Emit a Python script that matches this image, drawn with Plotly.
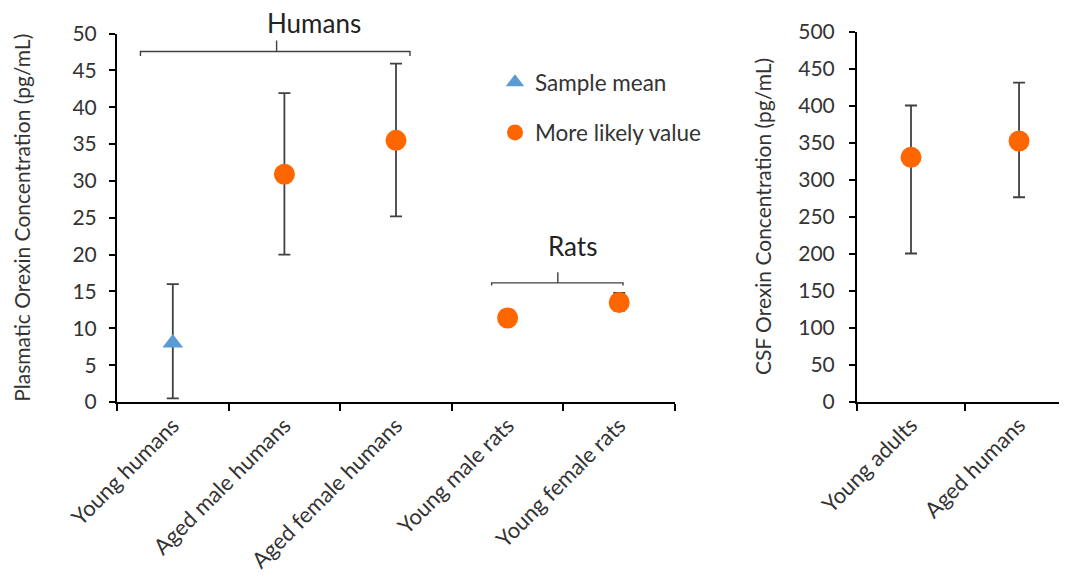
import plotly.graph_objects as go

# ---------------- data ----------------
plasma_categories = ["Young humans", "Aged male humans", "Aged female humans",
                     "Young male rats", "Young female rats"]
sample_mean_cat = ["Young humans"]
sample_mean_val = [8.0]
sample_mean_hi = [16.0]
sample_mean_lo = [0.5]

likely_cat = ["Aged male humans", "Aged female humans", "Young male rats", "Young female rats"]
likely_val = [30.9, 35.5, 11.4, 13.5]
likely_hi = [41.9, 45.9, 12.5, 14.8]
likely_lo = [20.0, 25.2, 10.5, 12.4]

csf_categories = ["Young adults", "Aged humans"]
csf_val = [330, 352]
csf_hi = [400, 431]
csf_lo = [200, 276]

plasma_ticks = [0, 5, 10, 15, 20, 25, 30, 35, 40, 45, 50]
csf_ticks = [0, 50, 100, 150, 200, 250, 300, 350, 400, 450, 500]

# ---------------- style ----------------
OFF = 8                      # page body margin of the browser
W, H = 1067 - OFF, 578 - OFF
FONT = "Lato"
TXT = "#333333"
ORANGE = "#FF6600"
BLUE = "#5B9BD5"
ERR = "#404040"


def px_x(p):
    return (p - OFF) / W


def px_y(p):
    return 1 - (p - OFF) / H


def err(vals, hi, lo):
    return dict(type="data", symmetric=False,
                array=[h - v for v, h in zip(vals, hi)],
                arrayminus=[v - l for v, l in zip(vals, lo)],
                color=ERR, thickness=1.8, width=6)


fig = go.Figure()

fig.add_trace(go.Scatter(
    x=sample_mean_cat, y=sample_mean_val, mode="markers", name="Sample mean",
    marker=dict(symbol="triangle-up", size=18, color=BLUE),
    error_y=err(sample_mean_val, sample_mean_hi, sample_mean_lo),
    xaxis="x", yaxis="y", legendgroup="a", cliponaxis=False))

fig.add_trace(go.Scatter(
    x=likely_cat, y=likely_val, mode="markers", name="More likely value",
    marker=dict(symbol="circle", size=21, color=ORANGE),
    error_y=err(likely_val, likely_hi, likely_lo),
    xaxis="x", yaxis="y", legendgroup="b", cliponaxis=False))

fig.add_trace(go.Scatter(
    x=csf_categories, y=csf_val, mode="markers", name="More likely value",
    marker=dict(symbol="circle", size=21, color=ORANGE),
    error_y=err(csf_val, csf_hi, csf_lo),
    xaxis="x2", yaxis="y2", showlegend=False, legendgroup="b", cliponaxis=False))

axis_common = dict(showgrid=False, zeroline=False, showline=True, linecolor="black",
                   linewidth=2, ticks="outside", tickcolor="black", tickwidth=1.8,
                   automargin=False)
xfont = dict(family=FONT, size=22, color=TXT)
yfont = dict(family=FONT, size=21, color=TXT)
title_font = dict(family=FONT, size=21, color=TXT)

fig.update_layout(
    width=W, height=H,
    margin=dict(l=0, r=0, t=0, b=0),
    paper_bgcolor="white", plot_bgcolor="white",
    font=dict(family=FONT, color=TXT),
    xaxis=dict(axis_common, domain=[px_x(117), px_x(675)], type="category",
               categoryorder="array", categoryarray=plasma_categories,
               range=[-0.5, 4.5], tickson="boundaries", ticklen=7,
               tickangle=-45, tickfont=xfont, anchor="y"),
    yaxis=dict(axis_common, domain=[px_y(402), px_y(33.5)], range=[0, 50],
               tickvals=plasma_ticks, ticklen=6, tickfont=yfont,
               ticklabelstandoff=8, anchor="x",
               title=dict(text="Plasmatic Orexin Concentration (pg/mL)",
                          font=title_font, standoff=36)),
    xaxis2=dict(axis_common, domain=[px_x(857), 1.0], type="category",
                categoryorder="array", categoryarray=csf_categories,
                range=[-0.5, 1.444], tickson="boundaries", ticklen=7,
                tickangle=-45, tickfont=xfont, anchor="y2"),
    yaxis2=dict(axis_common, domain=[px_y(401.5), px_y(31.5)], range=[0, 500],
                tickvals=csf_ticks, ticklen=6, tickfont=yfont,
                ticklabelstandoff=10, anchor="x2",
                title=dict(text="CSF Orexin Concentration (pg/mL)",
                           font=title_font, standoff=21)),
    showlegend=True,
    legend=dict(x=px_x(495), y=px_y(61), xanchor="left", yanchor="top",
                font=dict(family=FONT, size=22.5, color=TXT),
                traceorder="grouped", tracegroupgap=18,
                bgcolor="rgba(0,0,0,0)"),
)

# Brackets (category index / data coordinates)
bracket_line = dict(color="#404040", width=1.4)
humans = dict(x0=-0.29, x1=2.125, xm=0.93, y=47.55, ydrop=46.95, ytick=49.05)
rats = dict(x0=2.857, x1=4.034, xm=3.45, y=16.17, ydrop=15.8, ytick=17.6)
for b in (humans, rats):
    path = (f"M {b['x0']},{b['ydrop']} L {b['x0']},{b['y']} L {b['x1']},{b['y']} "
            f"L {b['x1']},{b['ydrop']} M {b['xm']},{b['y']} L {b['xm']},{b['ytick']}")
    fig.add_shape(type="path", path=path, xref="x", yref="y", line=bracket_line)

fig.add_annotation(x=1.265, y=px_y(23), xref="x", yref="paper", text="Humans",
                   xanchor="center", yanchor="middle", showarrow=False,
                   font=dict(family=FONT, size=26, color="#222222"))
fig.add_annotation(x=3.58, y=21.2, xref="x", yref="y", text="Rats",
                   xanchor="center", yanchor="middle", showarrow=False,
                   font=dict(family=FONT, size=26, color="#222222"))

fig.write_html("out.html")
